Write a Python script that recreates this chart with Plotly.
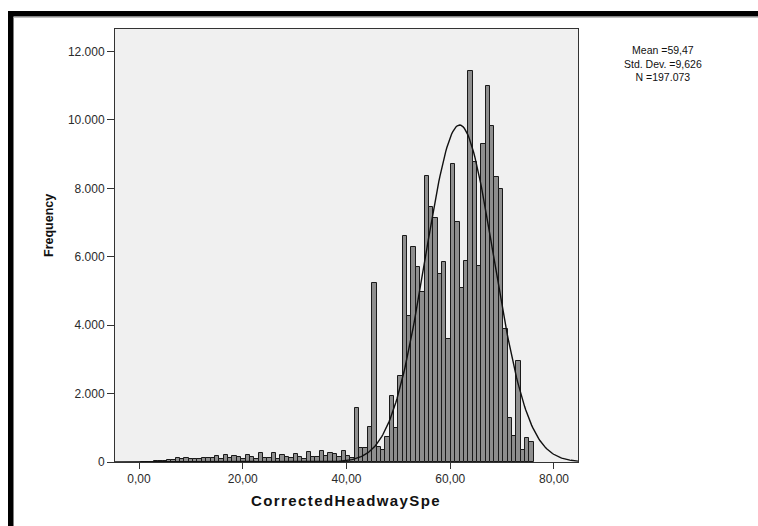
import numpy as np
import plotly.graph_objects as go

# ---- data ----
bin_start = 0.32          # left edge of first bin
bin_width = 0.842         # bin width
counts = [
    5, 8, 10, 15, 20,
    30, 60, 50, 130, 90, 120, 90, 100, 100, 130,
    110, 120, 175, 90, 215, 120, 175, 140, 100, 195,
    160, 100, 255, 110, 130, 255, 100, 210, 160, 110,
    225, 160, 100, 290, 140, 160, 320, 170, 250, 230,
    160, 310, 170, 110,
    1580, 400, 420, 1020, 5240, 440, 340, 730, 1920, 980,
    2520, 6600, 4260, 6290, 5690, 4970, 8360, 7460, 7140, 5510,
    5850, 3610, 8700, 7020, 5090, 5870, 11430, 8760, 5730, 9300,
    10990, 9820, 8340, 7980, 3890, 1290, 750, 2940, 340, 700, 590,
]
stats_lines = ["Mean =59,47", "Std. Dev. =9,626", "N =197.073"]
x_ticks = [0, 20, 40, 60, 80]
y_ticks = [0, 2000, 4000, 6000, 8000, 10000, 12000]
x_title = "CorrectedHeadwaySpe"
y_title = "Frequency"
# normal curve as drawn in the picture
curve_mean = 61.8
curve_sd = 6.6
curve_peak = 9850

# ---- geometry ----
W, H = 758, 526
ML, MR, MT, MB = 115, 180, 29, 64
PW, PH = W - ML - MR, H - MT - MB
x_range = [-4.63, 84.63]
y_range = [0, 12658]

def px(xp):
    return (xp - ML) / PW

def py(yp):
    return (H - MB - yp) / PH

centers = [bin_start + bin_width * (i + 0.5) for i in range(len(counts))]

xc = np.linspace(x_range[0], x_range[1], 400)
yc = curve_peak * np.exp(-0.5 * ((xc - curve_mean) / curve_sd) ** 2)

fig = go.Figure()
fig.add_trace(go.Bar(
    x=centers, y=counts, width=bin_width,
    marker=dict(color="#8e8e8e", line=dict(color="#1a1a1a", width=1)),
    hoverinfo="skip",
))
fig.add_trace(go.Scatter(
    x=xc, y=yc, mode="lines",
    line=dict(color="#111111", width=1.4),
    hoverinfo="skip",
))

font_tick = dict(family="Liberation Sans, Arial, sans-serif", size=12, color="#2a2a2a")

fig.update_layout(
    width=W, height=H,
    margin=dict(l=ML, r=MR, t=MT, b=MB, pad=0),
    paper_bgcolor="white",
    plot_bgcolor="#f0f0f0",
    showlegend=False,
    bargap=0,
    separators=",.",
    xaxis=dict(
        range=x_range, tickvals=x_ticks, tickformat=".2f",
        showgrid=False, zeroline=False,
        showline=True, mirror=True, linecolor="#333333", linewidth=1,
        ticks="outside", ticklen=6, tickcolor="#333333",
        tickfont=font_tick,
    ),
    yaxis=dict(
        range=y_range, tickvals=y_ticks, tickformat=",d",
        showgrid=False, zeroline=False,
        showline=True, mirror=True, linecolor="#333333", linewidth=1,
        ticks="outside", ticklen=7, tickcolor="#333333",
        tickfont=font_tick,
    ),
)

annotations = [
    dict(x=px(49), y=py(226), xref="paper", yref="paper",
         text="<b>" + y_title + "</b>", textangle=-90, showarrow=False,
         xanchor="center", yanchor="middle",
         font=dict(family="Liberation Sans, Arial, sans-serif", size=12.5, color="#111111")),
    dict(x=px(346), y=py(500), xref="paper", yref="paper",
         text='<span style="letter-spacing:1.4px"><b>' + x_title + "</b></span>",
         showarrow=False, xanchor="center", yanchor="middle",
         font=dict(family="Liberation Sans, Arial, sans-serif", size=15, color="#111111")),
    dict(x=px(663), y=py(64), xref="paper", yref="paper",
         text="<br>".join(stats_lines), showarrow=False,
         xanchor="center", yanchor="middle", align="center",
         font=dict(family="Liberation Sans, Arial, sans-serif", size=10.5, color="#111111")),
]
fig.update_layout(annotations=annotations)

# outer black frame (top and left edges visible in the reference)
fig.add_shape(type="rect", xref="paper", yref="paper",
              x0=px(8), x1=px(762), y0=py(16.5), y1=py(11),
              fillcolor="black", line=dict(width=0))
fig.add_shape(type="rect", xref="paper", yref="paper",
              x0=px(8), x1=px(13.5), y0=py(530), y1=py(11),
              fillcolor="black", line=dict(width=0))
fig.add_shape(type="line", xref="paper", yref="paper",
              x0=px(13.5), x1=px(762), y0=py(17.3), y1=py(17.3),
              line=dict(color="#b0b0b0", width=1))

fig.write_html("out.html")
